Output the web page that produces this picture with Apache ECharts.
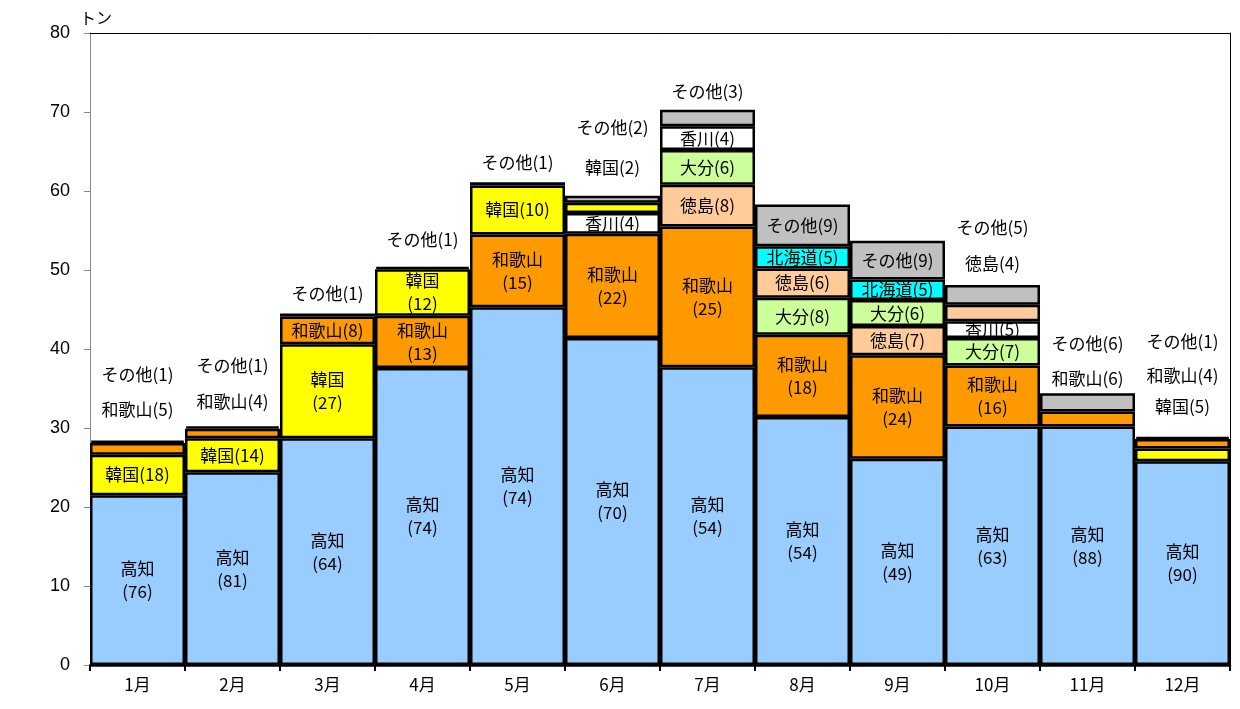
<!DOCTYPE html>
<html><head><meta charset="utf-8">
<script src="https://cdn.jsdelivr.net/npm/echarts@6/dist/echarts.min.js"></script>
<style>html,body{margin:0;padding:0;background:#fff}#c{width:1240px;height:709px}</style>
</head><body><div id="c"></div>
<script>
// ---- data ----
const months = ['1月','2月','3月','4月','5月','6月','7月','8月','9月','10月','11月','12月'];
const yTicks = [0,10,20,30,40,50,60,70,80];
const unitLabel = 'トン';
// origins stacked bottom -> top, per month
const origins = [
  ['高知','韓国','和歌山','その他'],
  ['高知','韓国','和歌山','その他'],
  ['高知','韓国','和歌山','その他'],
  ['高知','和歌山','韓国','その他'],
  ['高知','和歌山','韓国','その他'],
  ['高知','和歌山','香川','韓国','その他'],
  ['高知','和歌山','徳島','大分','香川','その他'],
  ['高知','和歌山','大分','徳島','北海道','その他'],
  ['高知','和歌山','徳島','大分','北海道','その他'],
  ['高知','和歌山','大分','香川','徳島','その他'],
  ['高知','和歌山','その他'],
  ['高知','韓国','和歌山','その他']
];
// tonnes per origin
const tons = [
  [21.5,5.1,1.5,0.3],
  [24.4,4.3,1.2,0.3],
  [28.7,11.9,3.5,0.4],
  [37.6,6.6,5.9,0.3],
  [45.3,9.2,6.2,0.4],
  [41.4,13.2,2.6,1.3,0.9],
  [37.7,17.8,5.3,4.4,3.0,2.1],
  [31.4,10.4,4.7,3.7,2.8,5.3],
  [26.1,13.1,3.7,3.3,2.6,4.9],
  [30.2,7.7,3.5,2.1,2.1,2.5],
  [30.2,1.9,2.3],
  [25.8,1.6,1.2,0.3]
];
// share (%) shown in labels
const shares = [
  [76,18,5,1],
  [81,14,4,1],
  [64,27,8,1],
  [74,13,12,1],
  [74,15,10,1],
  [70,22,4,2,2],
  [54,25,8,6,4,3],
  [54,18,8,6,5,9],
  [49,24,7,6,5,9],
  [63,16,7,5,4,5],
  [88,6,6],
  [90,5,4,1]
];

// ---- styles (kept apart from data) ----
const colors = {'高知':'#99CCFF','韓国':'#FFFF00','和歌山':'#FF9900','徳島':'#FFCC99','大分':'#CCFF99','香川':'#FFFFFF','北海道':'#00FFFF','その他':'#C0C0C0'};
// label modes: w = two lines inside, i = one line inside, o = outside above the bar
const labelModes = [
  ['w','i','o','o'],
  ['w','i','o','o'],
  ['w','w','i','o'],
  ['w','w','w','o'],
  ['w','w','i','o'],
  ['w','w','i','o','o'],
  ['w','w','i','i','i','o'],
  ['w','w','i','i','i','i'],
  ['w','w','i','i','i','i'],
  ['w','w','i','i','o','o'],
  ['w','o','o'],
  ['w','o','o','o']
];
// pixel lift of outside labels above the bar top (bottom-most first)
const outsideLift = [[31,66],[25,61],[20],[27],[20],[28,68],[18],[],[],[21,57],[15,50],[30,61,95]];

const FONT = '"Noto Sans CJK JP","Noto Sans",sans-serif';
const LBL = 17;
const maxRank = Math.max(...origins.map(o => o.length));
const series = [];
for (let r = 0; r < maxRank; r++) {
  series.push({
    type: 'bar', stack: 'all', barCategoryGap: 0, barGap: 0,
    z: 2,
    data: months.map((m, i) => {
      if (r >= origins[i].length) return null;
      const name = origins[i][r], mode = labelModes[i][r];
      return {
        value: tons[i][r],
        itemStyle: {color: colors[name], borderColor: '#000', borderWidth: 2.5},
        label: {
          show: mode !== 'o', position: 'inside', color: '#000',
          fontFamily: FONT, fontSize: LBL, lineHeight: 23,
          formatter: mode === 'w' ? name + '\n(' + shares[i][r] + ')' : name + '(' + shares[i][r] + ')'
        }
      };
    })
  });
}
// outside labels
const outItems = [];
months.forEach((m, i) => {
  const total = tons[i].reduce((a, b) => a + b, 0);
  let k = 0;
  origins[i].forEach((name, r) => {
    if (labelModes[i][r] === 'o') {
      outItems.push({v: [i, total], text: name + '(' + shares[i][r] + ')', lift: outsideLift[i][k]});
      k++;
    }
  });
});
series.push({
  type: 'custom', z: 5, silent: true,
  data: outItems.map(o => o.v),
  renderItem: function (params, api) {
    const it = outItems[params.dataIndex];
    const p = api.coord([api.value(0), api.value(1)]);
    return {type: 'text', style: {text: it.text, x: p[0], y: p[1] - it.lift, align: 'center', verticalAlign: 'middle', fontSize: LBL, fontFamily: FONT, fill: '#000'}};
  }
});

const chart = echarts.init(document.getElementById('c'));
chart.setOption({
  animation: false,
  grid: {left: 90, right: 10, top: 33, bottom: 44},
  xAxis: [
    {type: 'category', data: months, axisLine: {lineStyle: {color: '#000', width: 2.5}},
     axisTick: {show: true, length: 6, lineStyle: {color: '#000', width: 2}},
     axisLabel: {color: '#000', fontSize: 17, fontFamily: FONT, margin: 11}},
    {type: 'category', data: months, position: 'top', axisLine: {show: true, onZero: false, lineStyle: {color: '#000', width: 1}},
     axisTick: {show: false}, axisLabel: {show: false}}
  ],
  yAxis: [
    {type: 'value', min: yTicks[0], max: yTicks[yTicks.length - 1], interval: yTicks[1] - yTicks[0],
     splitLine: {show: false},
     axisLine: {show: true, lineStyle: {color: '#888', width: 1}},
     axisTick: {show: true, length: 6, lineStyle: {color: '#888'}},
     axisLabel: {color: '#000', fontSize: 18, fontFamily: '"Liberation Sans",Arial,sans-serif', margin: 20}},
    {type: 'value', min: yTicks[0], max: yTicks[yTicks.length - 1], position: 'right',
     splitLine: {show: false}, axisLine: {show: true, onZero: false, lineStyle: {color: '#000', width: 1}},
     axisTick: {show: false}, axisLabel: {show: false}}
  ],
  graphic: [{type: 'text', left: 80, top: 10, style: {text: unitLabel, fontSize: 16, fontFamily: FONT, fill: '#000'}}],
  series: series
});
</script></body></html>
